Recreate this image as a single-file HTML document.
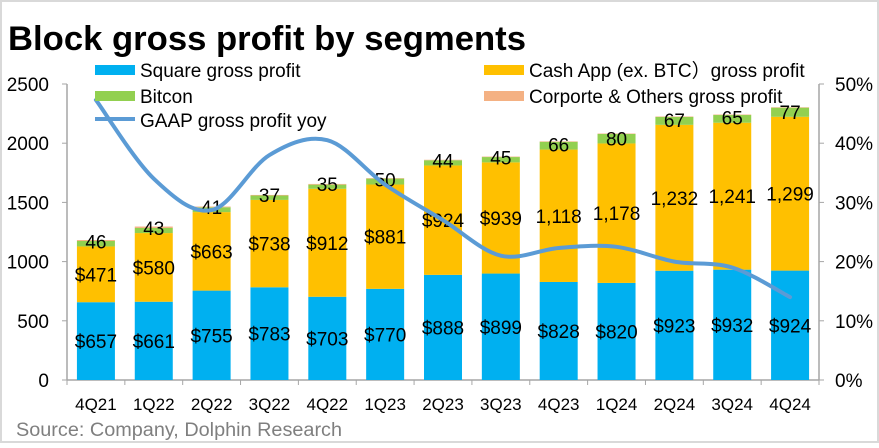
<!DOCTYPE html>
<html><head><meta charset="utf-8"><style>
html,body{margin:0;padding:0;background:#fff;}
body{width:879px;height:443px;overflow:hidden;font-family:"Liberation Sans","Noto Sans CJK SC",sans-serif;}
svg text{font-family:"Liberation Sans","Noto Sans CJK SC",sans-serif;}
</style></head><body>
<svg id="chart" width="879" height="443" xmlns="http://www.w3.org/2000/svg">
<rect x="1" y="1" width="877" height="441" fill="#fff" stroke="#d9d9d9" stroke-width="2"/>
<text x="8" y="50" font-size="34" font-weight="bold" fill="#000" textLength="518" lengthAdjust="spacingAndGlyphs">Block gross profit by segments</text>
<g id="plot"></g>
<text x="16" y="436" font-size="19" fill="#7f7f7f" textLength="326" lengthAdjust="spacingAndGlyphs">Source: Company, Dolphin Research</text>
</svg>
<script>
const categories=["4Q21","1Q22","2Q22","3Q22","4Q22","1Q23","2Q23","3Q23","4Q23","1Q24","2Q24","3Q24","4Q24"];
const square=[657,661,755,783,703,770,888,899,828,820,923,932,924];
const cashApp=[471,580,663,738,912,881,924,939,1118,1178,1232,1241,1299];
const bitcoin=[46,43,41,37,35,50,44,45,66,80,67,65,77];
const corporate=[8,12,6,5,6,4,4,4,4,4,4,4,4];
const squareLabels=["$657","$661","$755","$783","$703","$770","$888","$899","$828","$820","$923","$932","$924"];
const cashLabels=["$471","$580","$663","$738","$912","$881","$924","$939","1,118","1,178","1,232","1,241","1,299"];
const yoy=[47.3,34,28.7,38,40.5,33,27,21,22.3,22.5,20,19,14];
const leftTicks=[0,500,1000,1500,2000,2500];
const rightTicks=[0,10,20,30,40,50];

const NS="http://www.w3.org/2000/svg";
const g=document.getElementById('plot');
const X0=67,X1=819,Y0=380,YT=84;
const step=(X1-X0)/categories.length;
const cx=i=>X0+step*(i+0.5);
const yL=v=>Y0-(v/2500)*(Y0-YT);
const yR=v=>Y0-(v/50)*(Y0-YT);
function el(tag,attrs,txt){const e=document.createElementNS(NS,tag);for(const k in attrs)e.setAttribute(k,attrs[k]);if(txt!==undefined)e.textContent=txt;g.appendChild(e);return e;}

let a=el('line',{x1:X0,y1:YT,x2:X0,y2:Y0,stroke:'#a6a6a6','stroke-width':1.5});

a=el('line',{x1:X1,y1:YT,x2:X1,y2:Y0,stroke:'#a6a6a6','stroke-width':1.5});

a=el('line',{x1:X0,y1:Y0,x2:X1,y2:Y0,stroke:'#a6a6a6','stroke-width':1.5});

leftTicks.forEach(t=>{
 const l=el('line',{x1:X0-5,y1:yL(t),x2:X0,y2:yL(t),stroke:'#a6a6a6'});
 
 const tx=el('text',{x:X0-18,y:yL(t)+7,'font-size':19,'text-anchor':'end',fill:'#000'},String(t));
 
});
rightTicks.forEach(t=>{
 const l=el('line',{x1:X1,y1:yR(t),x2:X1+5,y2:yR(t),stroke:'#a6a6a6'});
 
 const tx=el('text',{x:X1+16,y:yR(t)+7,'font-size':19,fill:'#000'},t+'%');
 
});
for(let i=0;i<=categories.length;i++){
 const l=el('line',{x1:X0+step*i,y1:Y0,x2:X0+step*i,y2:Y0+5,stroke:'#a6a6a6'});
 
}
const bw=38;
categories.forEach((c,i)=>{
 const x=cx(i)-bw/2;
 const b1=square[i],b2=b1+cashApp[i],b3=b2+bitcoin[i],b4=b3+corporate[i];
 let r=el('rect',{x:x,y:yL(b1),width:bw,height:yL(0)-yL(b1),fill:'#00b0f0'});
 
 r=el('rect',{x:x,y:yL(b2),width:bw,height:yL(b1)-yL(b2),fill:'#ffc000'});
 
 r=el('rect',{x:x,y:yL(b3),width:bw,height:yL(b2)-yL(b3),fill:'#92d050'});
 
 r=el('rect',{x:x,y:yL(b4),width:bw,height:yL(b3)-yL(b4),fill:'#f4b183'});
 
 let t=el('text',{x:cx(i),y:(yL(0)+yL(b1))/2+7,'font-size':19,'text-anchor':'middle',fill:'#000'},squareLabels[i]);
 
 t=el('text',{x:cx(i),y:(yL(b1)+yL(b2))/2+7,'font-size':19,'text-anchor':'middle',fill:'#000'},cashLabels[i]);
 
 t=el('text',{x:cx(i),y:yL(b2)+2,'font-size':19,'text-anchor':'middle',fill:'#000'},String(bitcoin[i]));
 
 t=el('text',{x:cx(i),y:Y0+30,'font-size':17,'text-anchor':'middle',fill:'#000'},c);
 
});
const pts=yoy.map((v,i)=>[cx(i),yR(v)]);
let d='M'+pts[0][0]+','+pts[0][1];
for(let i=0;i<pts.length-1;i++){
 const p0=pts[i-1]||pts[i],p1=pts[i],p2=pts[i+1],p3=pts[i+2]||p2;
 const c1=[p1[0]+(p2[0]-p0[0])/6,p1[1]+(p2[1]-p0[1])/6];
 const c2=[p2[0]-(p3[0]-p1[0])/6,p2[1]-(p3[1]-p1[1])/6];
 d+=' C'+c1+' '+c2+' '+p2;
}
const ln=el('path',{d:d,fill:'none',stroke:'#5b9bd5','stroke-width':4,'stroke-linecap':'round'});

const leg=[[95,62,'#00b0f0','Square gross profit','rect'],[484,62,'#ffc000','Cash App (ex. BTC）gross profit','rect'],[95,88,'#92d050','Bitcon','rect'],[484,88,'#f4b183','Corporte & Others gross profit','rect'],[95,112,'#5b9bd5','GAAP gross profit yoy','line']];
leg.forEach(L=>{
 let s;
 if(L[4]==='rect') s=el('rect',{x:L[0],y:L[1]+3,width:40,height:10,fill:L[2]});
 else s=el('line',{x1:L[0],y1:L[1]+7,x2:L[0]+40,y2:L[1]+7,stroke:L[2],'stroke-width':4});
 
 const t=el('text',{x:L[0]+45,y:L[1]+15,'font-size':19,fill:'#000'},L[3]);
 
});
</script>
</body></html>
